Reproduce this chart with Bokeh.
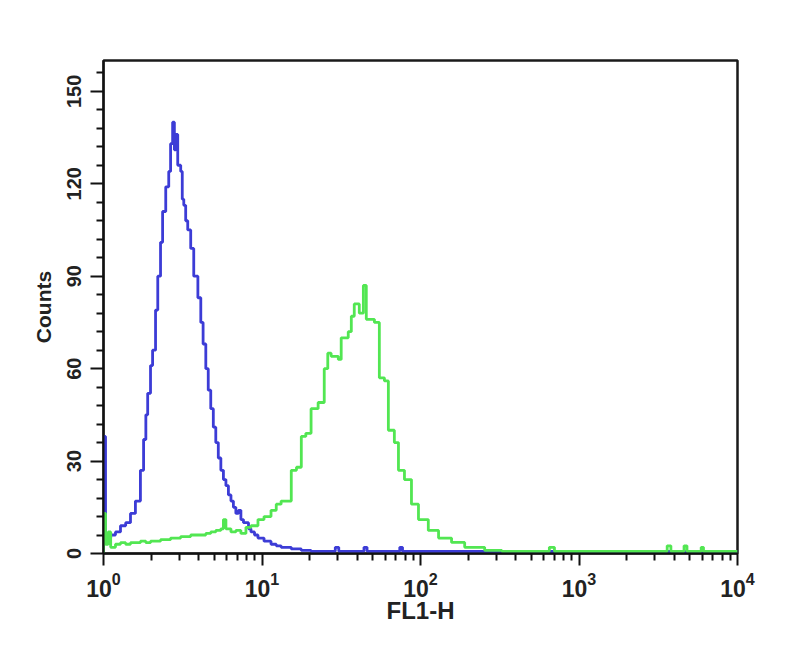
from bokeh.plotting import figure
from bokeh.models import FixedTicker, ColumnDataSource
from bokeh.embed import file_html
from bokeh.resources import INLINE

# ---- data (FL1-H intensity, counts) ----
blue_x = [1.0, 1.0, 1.03, 1.11, 1.19, 1.28, 1.38, 1.48, 1.59, 1.71, 1.79, 1.85, 1.90,
          1.98, 2.04, 2.13, 2.20, 2.29, 2.36, 2.47, 2.58, 2.65, 2.73, 2.80, 2.86, 2.94,
          3.07, 3.14, 3.21, 3.30, 3.40, 3.55, 3.71, 3.94, 4.11, 4.25, 4.42, 4.58, 4.75,
          4.93, 5.11, 5.30, 5.50, 5.71, 5.92, 6.14, 6.37, 6.60, 6.84, 7.10, 7.36, 7.64,
          7.92, 8.22, 8.52, 8.97, 9.43, 10.3, 11.4, 12.3, 13.2, 15.3, 17.7, 20.4, 25.0,
          29.0, 30.5, 44.0, 46.0, 74.0, 77.0, 150.0, 10000.0]
blue_y = [0, 38, 5, 6, 7, 9, 10, 13, 17, 27, 37, 45, 52,
          61, 66, 79, 90, 101, 111, 119, 124, 133, 140, 131, 136, 126,
          124, 115, 113, 108, 105, 99, 90, 83, 75, 68, 60, 53, 47,
          41, 36, 31, 27, 24, 22, 19, 17, 15, 13, 14, 11, 10,
          10, 8, 7, 6, 5, 4, 3, 2.5, 2, 1.5, 1, 0.7, 0.7,
          2, 0.7, 2, 0.7, 2, 0.7, 0.7, 0.7]

green_x = [1.0, 1.0, 1.03, 1.07, 1.11, 1.19, 1.28, 1.38, 1.48, 1.59, 1.71, 1.85, 1.98,
           2.13, 2.29, 2.47, 2.65, 2.86, 3.07, 3.30, 3.55, 3.94, 4.42, 4.75, 5.11, 5.50,
           5.71, 5.92, 6.37, 6.84, 7.36, 7.92, 8.52, 9.43, 10.3, 11.4, 12.3, 13.2, 14.2,
           15.3, 16.5, 17.7, 18.9, 20.4, 22.6, 24.7, 26.0, 27.3, 30.3, 31.6, 35.0, 36.6,
           38.2, 41.1, 43.6, 45.5, 49.0, 51.2, 55.0, 59.2, 62.7, 68.4, 72.6, 79.2, 87.7,
           97.1, 112.0, 130.0, 157.0, 190.0, 254.0, 326.0, 650.0, 700.0, 3600.0, 3800.0,
           4600.0, 4800.0, 5900.0, 6100.0, 10000.0]
green_y = [0, 13, 3, 7, 2, 3, 3.5, 3, 3.5, 3.5, 4, 3.5, 4,
           4, 4.5, 4.5, 5, 5, 5.5, 5.5, 6, 6, 6.5, 7, 7.5, 8,
           11, 8, 7, 7.5, 6.5, 8.5, 9, 11, 12, 14, 16, 17, 17,
           27, 28, 38, 39, 47, 49, 60, 65, 64, 63, 70, 72, 77,
           81, 78, 87, 76, 76, 75, 57, 56, 40, 36, 27, 24, 16,
           11, 7.5, 5, 3.6, 2, 1, 0.7, 2, 0.7, 2.5, 0.7,
           2.5, 0.7, 2, 0.7, 0.7]

x_decades = [1, 10, 100, 1000, 10000]
y_ticks = [0, 30, 60, 90, 120, 150]
y_minor = [6, 12, 18, 24, 36, 42, 48, 54, 66, 72, 78, 84, 96, 102, 108, 114,
           126, 132, 138, 144, 156]
x_minor = [m * d for d in x_decades[:-1] for m in range(2, 10)]

p = figure(x_axis_type="log", x_range=(1, 10000), y_range=(0, 160),
           frame_width=634, frame_height=493,
           min_border_left=103, min_border_top=60, min_border_right=45,
           min_border_bottom=88,
           output_backend="svg", toolbar_location=None)

p.grid.visible = False
p.outline_line_color = "#1a1a1a"
p.outline_line_width = 2.5
p.background_fill_color = "white"
p.border_fill_color = "white"

blue_src = ColumnDataSource(dict(x=blue_x, y=blue_y))
green_src = ColumnDataSource(dict(x=green_x, y=green_y))
p.step("x", "y", source=blue_src, mode="after", line_color="#3c3cd6", line_width=2.8)
p.step("x", "y", source=green_src, mode="after", line_color="#52e652", line_width=2.8)

# x axis
p.xaxis.ticker = FixedTicker(ticks=x_decades, minor_ticks=x_minor)
p.xaxis.axis_label = "FL1-H"
p.xaxis.axis_label_text_font = "Liberation Sans"
p.xaxis.axis_label_text_font_style = "bold"
p.xaxis.axis_label_text_font_size = "24px"
p.xaxis.axis_label_text_color = "#222222"
p.xaxis.axis_label_standoff = -3
p.xaxis.major_label_text_font = "Liberation Sans"
p.xaxis.major_label_text_font_style = "bold"
p.xaxis.major_label_text_font_size = "23px"
p.xaxis.major_label_text_color = "#222222"
p.xaxis.major_label_standoff = 6
p.xaxis.major_tick_out = 12
p.xaxis.major_tick_in = 0
p.xaxis.minor_tick_out = 7
p.xaxis.minor_tick_in = 0

# y axis
p.yaxis.ticker = FixedTicker(ticks=y_ticks, minor_ticks=y_minor)
p.yaxis.axis_label = "Counts"
p.yaxis.axis_label_text_font = "Liberation Sans"
p.yaxis.axis_label_text_font_style = "bold"
p.yaxis.axis_label_text_font_size = "21px"
p.yaxis.axis_label_text_color = "#222222"
p.yaxis.axis_label_standoff = 9
p.yaxis.major_label_text_font = "Liberation Sans"
p.yaxis.major_label_text_font_style = "bold"
p.yaxis.major_label_text_font_size = "20px"
p.yaxis.major_label_text_color = "#222222"
p.yaxis.major_label_orientation = "vertical"
p.yaxis.major_label_standoff = 10
p.yaxis.major_tick_out = 13
p.yaxis.major_tick_in = 0
p.yaxis.minor_tick_out = 7
p.yaxis.minor_tick_in = 0

for ax in (p.xaxis, p.yaxis):
    ax.axis_line_color = "#111111"
    ax.axis_line_width = 2
    ax.major_tick_line_color = "#111111"
    ax.major_tick_line_width = 2
    ax.minor_tick_line_color = "#111111"
    ax.minor_tick_line_width = 2

open("out.html", "w").write(file_html(p, INLINE))
